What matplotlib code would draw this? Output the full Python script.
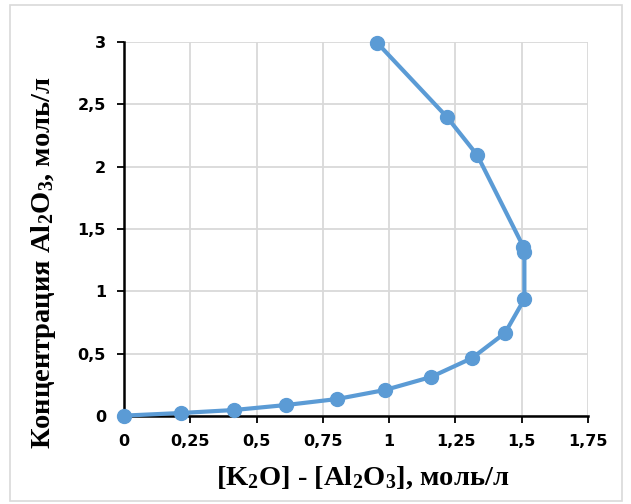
"""K2O - Al2O3 vs Al2O3 concentration curve."""

import matplotlib
matplotlib.use('Agg')
import matplotlib.pyplot as plt
from matplotlib.patches import Rectangle
from matplotlib.ticker import FuncFormatter, MultipleLocator

plt.rcParams.update({
    'font.family': ['DejaVu Sans'],
    'font.weight': 'bold',
    'xtick.labelsize': 11.5,
    'ytick.labelsize': 11.5,
    'mathtext.fontset': 'custom',
    'mathtext.rm': 'Liberation Serif:bold',
    'mathtext.it': 'Liberation Serif:bold',
    'mathtext.bf': 'Liberation Serif:bold',
})

# [K2O] - [Al2O3], mol/l
X_DIFF = [0.0, 0.215, 0.415, 0.611, 0.803, 0.985, 1.158, 1.313, 1.437,
          1.510, 1.510, 1.506, 1.332, 1.218, 0.954]
# Al2O3 concentration, mol/l
Y_AL2O3 = [0.003, 0.024, 0.048, 0.088, 0.136, 0.209, 0.313, 0.465, 0.666,
           0.938, 1.318, 1.358, 2.093, 2.398, 2.995]

LINE_COLOR = '#5B9BD5'


def comma(v, pos):
    s = f'{v:.2f}'.rstrip('0').rstrip('.')
    return s.replace('.', ',')


def main():
    fig = plt.figure(figsize=(6.31, 5.04), dpi=100)
    ax = fig.add_axes([0.1965, 0.1746, 0.7354, 0.7421])

    ax.plot(X_DIFF, Y_AL2O3, color=LINE_COLOR, linewidth=3,
            marker='o', markersize=10, zorder=3, clip_on=False)

    ax.set_xlim(0, 1.75)
    ax.set_ylim(0, 3)
    ax.xaxis.set_major_locator(MultipleLocator(0.25))
    ax.yaxis.set_major_locator(MultipleLocator(0.5))
    ax.xaxis.set_major_formatter(FuncFormatter(comma))
    ax.yaxis.set_major_formatter(FuncFormatter(comma))
    ax.grid(True, color='#D9D9D9', linewidth=1.3, zorder=0)
    ax.set_axisbelow(True)

    for side in ('top', 'right'):
        ax.spines[side].set_visible(False)
    for side in ('left', 'bottom'):
        ax.spines[side].set_color('black')
        ax.spines[side].set_linewidth(1.8)
        ax.spines[side].set_zorder(2.5)
    ax.tick_params(direction='out', length=5, width=1.3, color='black', pad=8)

    label_font = dict(family='Liberation Serif', weight='bold', size=20.5)
    ax.set_xlabel(r'[K$_2$O] - [Al$_2$O$_3$], моль/л', **label_font)
    ax.set_ylabel(r'Концентрация Al$_2$O$_3$, моль/л', **label_font)
    ax.xaxis.set_label_coords(0.515, -0.128)
    ax.yaxis.set_label_coords(-0.142, 0.409)

    # chart area border
    fig.patches.append(Rectangle((0.016, 0.006), 0.97, 0.984, transform=fig.transFigure,
                                 fill=False, edgecolor='#D9D9D9', linewidth=1.2))

    fig.savefig('out.png', dpi=100)
    plt.close(fig)


if __name__ == '__main__':
    main()
